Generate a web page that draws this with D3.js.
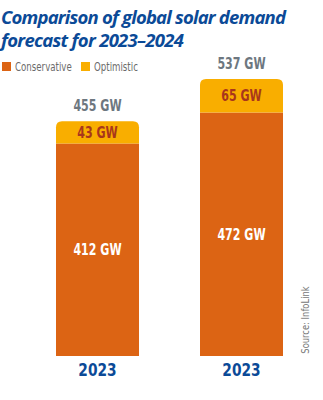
<!DOCTYPE html>
<html>
<head>
<meta charset="utf-8">
<script src="https://cdn.jsdelivr.net/npm/d3@7"></script>
<style>
  body { margin: 0; background: #fff; }
  svg { display: block; }
</style>
</head>
<body>
<div id="chart"></div>
<script>
// data
const categories = ["2023", "2023"];
const conservative = [412, 472];
const optimistic = [43, 65];
const seriesNames = ["Conservative", "Optimistic"];

const colors = { conservative: "#dc6414", optimistic: "#f9ae00" };
const narrow = "'DejaVu Sans Condensed', 'Liberation Sans Narrow', sans-serif";

const width = 323, height = 400;
const svg = d3.select("#chart").append("svg")
    .attr("width", width)
    .attr("height", height);

// condensed text helper: squeeze horizontally around anchor x
function label(g, txt, xPos, yPos, opts) {
    return g.append("text")
        .attr("transform", `translate(${xPos},${yPos}) scale(${opts.sx || 0.82},1)`)
        .attr("text-anchor", opts.anchor || "middle")
        .style("font-family", narrow)
        .style("font-weight", opts.bold ? "bold" : "normal")
        .style("font-size", opts.size + "px")
        .style("fill", opts.fill)
        .text(txt);
}

// title
const title = svg.append("text")
    .attr("x", 1)
    .attr("y", 24)
    .style("font-family", "'Open Sans', sans-serif")
    .style("font-weight", "bold")
    .style("font-style", "italic")
    .style("font-size", "18.5px")
    .style("fill", "#0b4a97");
title.append("tspan").attr("x", 1).attr("textLength", 285).text("Comparison of global solar demand");
title.append("tspan").attr("x", 1).attr("dy", 23).attr("textLength", 183).text("forecast for 2023\u20132024");

// legend
const legendX = [2, 81];
seriesNames.forEach((name, i) => {
    svg.append("rect").attr("x", legendX[i]).attr("y", 62).attr("width", 9).attr("height", 9)
        .attr("fill", i === 0 ? colors.conservative : colors.optimistic);
    label(svg, name, legendX[i] + 13, 71, { anchor: "start", size: 12, fill: "#6b6b6b", sx: 0.8 });
});

// scales
const x = d3.scaleBand()
    .domain(d3.range(categories.length))
    .range([12.8, 326.2])
    .paddingInner(0.4236)
    .paddingOuter(0.3);

const y = d3.scaleLinear()
    .domain([0, 537])
    .range([356, 79]);

const bw = x.bandwidth();
const r = 6;

const bars = svg.append("g");
categories.forEach((c, i) => {
    const x0 = x(i);
    const total = conservative[i] + optimistic[i];
    // conservative part
    bars.append("rect")
        .attr("x", x0)
        .attr("y", y(conservative[i]))
        .attr("width", bw)
        .attr("height", y(0) - y(conservative[i]))
        .attr("fill", colors.conservative);
    // optimistic part with rounded top corners
    const yt = y(total), yb = y(conservative[i]);
    bars.append("path")
        .attr("d", `M${x0},${yb}V${yt + r}Q${x0},${yt} ${x0 + r},${yt}H${x0 + bw - r}Q${x0 + bw},${yt} ${x0 + bw},${yt + r}V${yb}Z`)
        .attr("fill", colors.optimistic);

    const cx = x0 + bw / 2;
    label(svg, `${total} GW`, cx, yt - 10, { bold: true, size: 15, fill: "#6d7780" });
    label(svg, `${optimistic[i]} GW`, cx, (yt + yb) / 2 + 5.5, { bold: true, size: 15, fill: "#a8361c" });
    label(svg, `${conservative[i]} GW`, cx, (yb + y(0)) / 2 + 5.5, { bold: true, size: 15, fill: "#ffffff" });
});

// x axis labels
const xAxis = svg.append("g")
    .attr("transform", `translate(0,${y(0)})`)
    .call(d3.axisBottom(x).tickSize(0).tickPadding(7).tickFormat(i => categories[i]));
xAxis.select(".domain").remove();
xAxis.selectAll("text")
    .attr("transform", "scale(0.85,1)")
    .style("font-family", narrow)
    .style("font-weight", "bold")
    .style("font-size", "18px")
    .style("fill", "#0b4a97");

// source
svg.append("text")
    .attr("transform", "translate(309,320) rotate(-90) scale(0.85,1)")
    .attr("text-anchor", "middle")
    .style("font-family", narrow)
    .style("font-size", "11px")
    .style("fill", "#777")
    .text("Source: InfoLink");
</script>
</body>
</html>
